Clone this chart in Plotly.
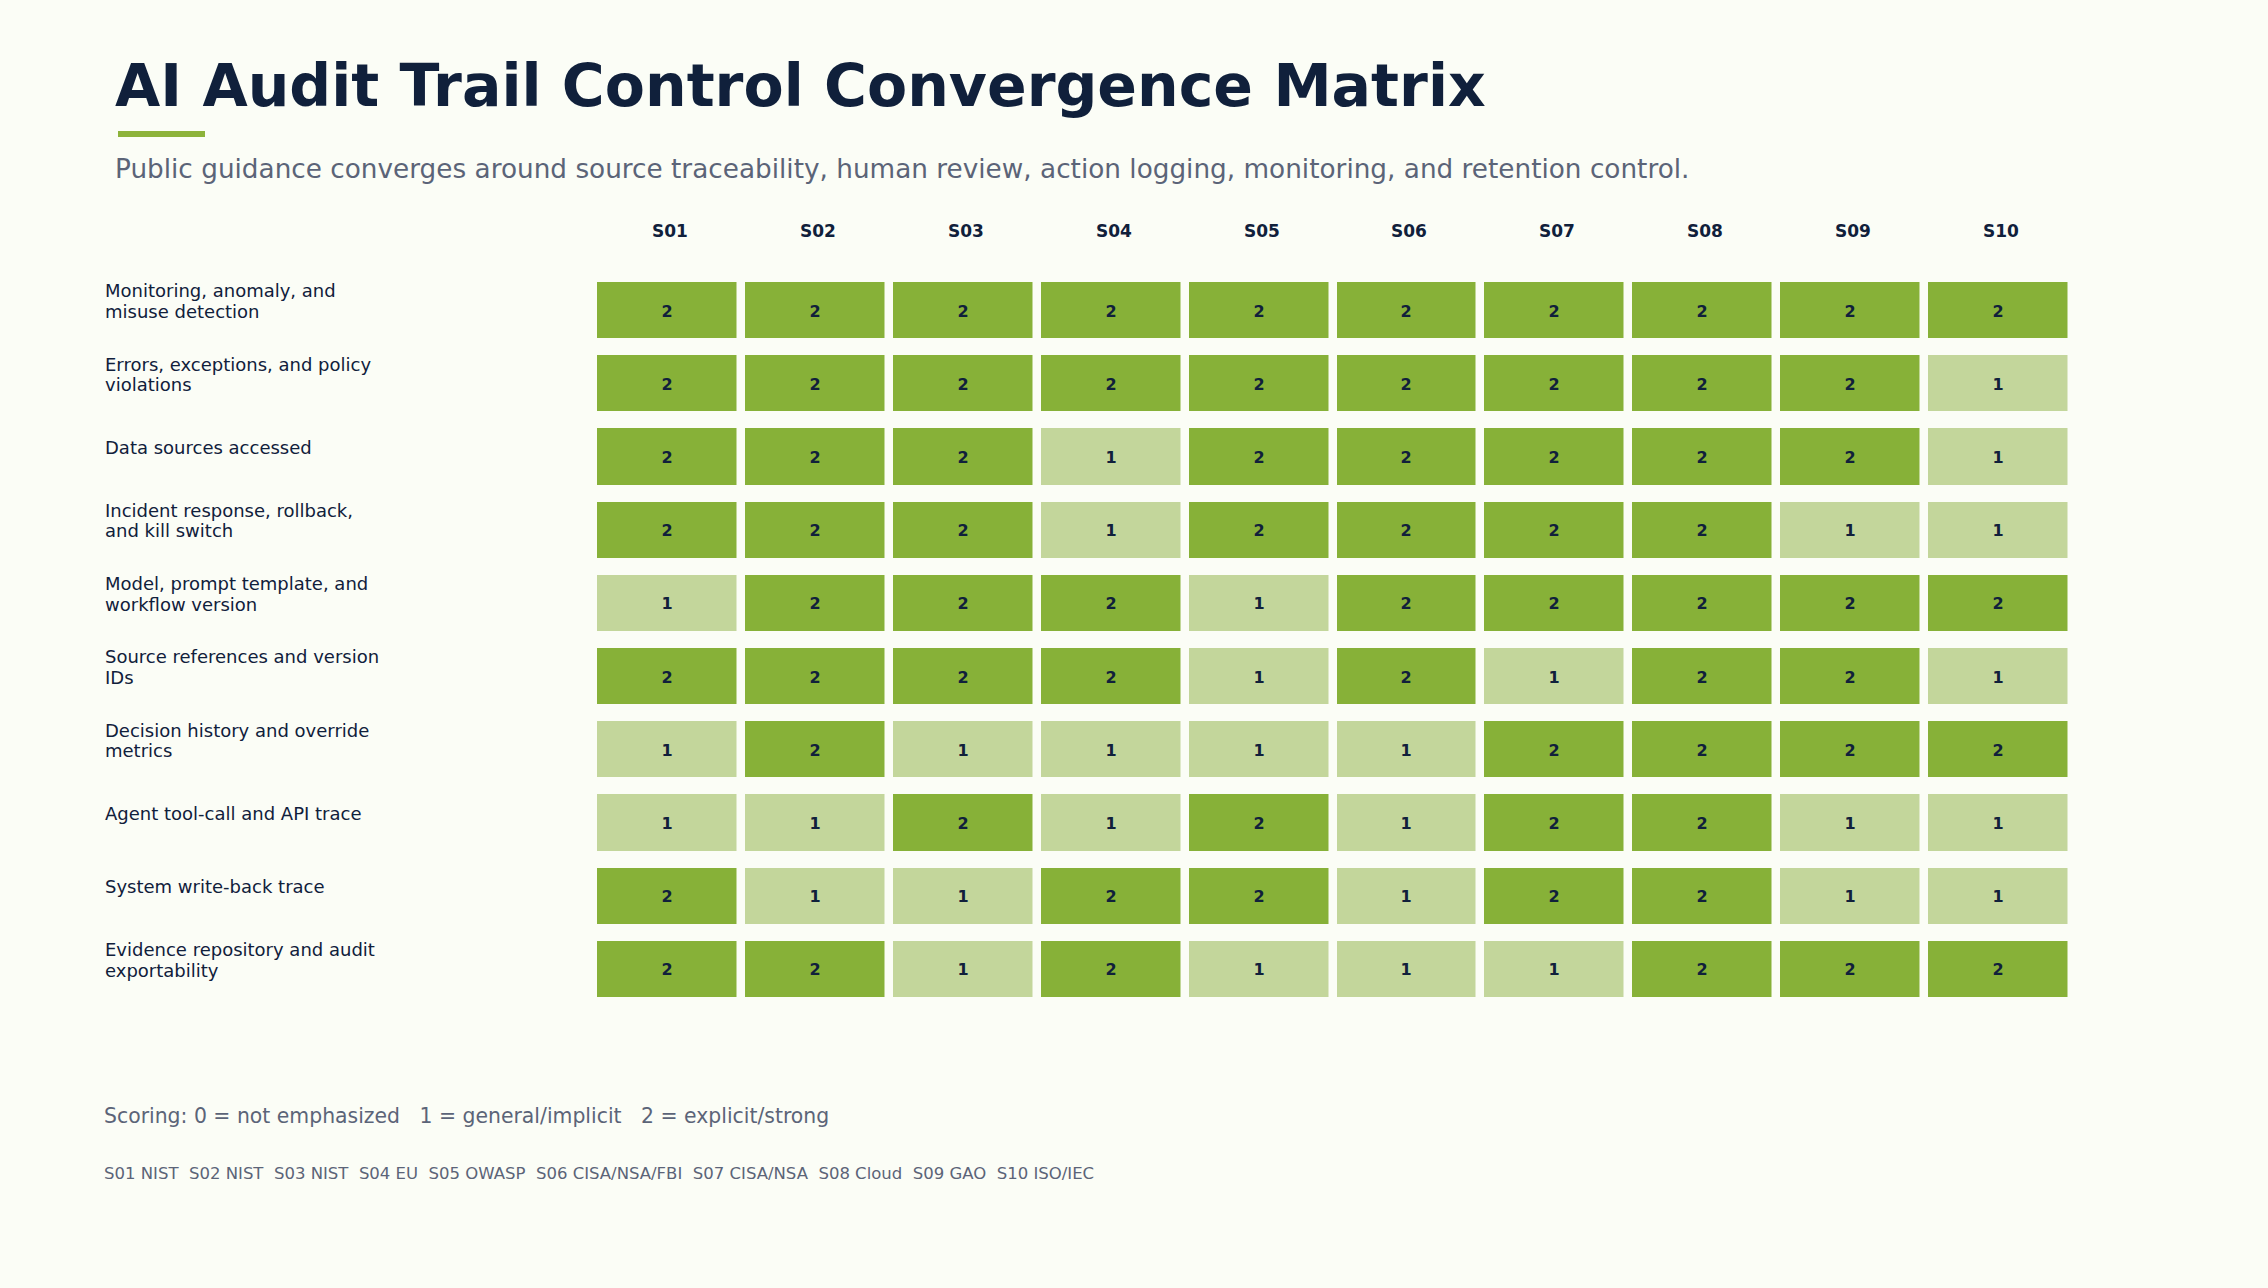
import textwrap
import plotly.graph_objects as go

# ---------------- data ----------------
sources = ["S01", "S02", "S03", "S04", "S05", "S06", "S07", "S08", "S09", "S10"]
controls = [
    "Monitoring, anomaly, and misuse detection",
    "Errors, exceptions, and policy violations",
    "Data sources accessed",
    "Incident response, rollback, and kill switch",
    "Model, prompt template, and workflow version",
    "Source references and version IDs",
    "Decision history and override metrics",
    "Agent tool-call and API trace",
    "System write-back trace",
    "Evidence repository and audit exportability",
]
scores = [
    [2, 2, 2, 2, 2, 2, 2, 2, 2, 2],
    [2, 2, 2, 2, 2, 2, 2, 2, 2, 1],
    [2, 2, 2, 1, 2, 2, 2, 2, 2, 1],
    [2, 2, 2, 1, 2, 2, 2, 2, 1, 1],
    [1, 2, 2, 2, 1, 2, 2, 2, 2, 2],
    [2, 2, 2, 2, 1, 2, 1, 2, 2, 1],
    [1, 2, 1, 1, 1, 1, 2, 2, 2, 2],
    [1, 1, 2, 1, 2, 1, 2, 2, 1, 1],
    [2, 1, 1, 2, 2, 1, 2, 2, 1, 1],
    [2, 2, 1, 2, 1, 1, 1, 2, 2, 2],
]
source_names = ["NIST", "NIST", "NIST", "EU", "OWASP", "CISA/NSA/FBI",
                "CISA/NSA", "Cloud", "GAO", "ISO/IEC"]

title = "AI Audit Trail Control Convergence Matrix"
subtitle = ("Public guidance converges around source traceability, human review, "
            "action logging, monitoring, and retention control.")
scoring_text = ["Scoring: 0 = not emphasized", "1 = general/implicit", "2 = explicit/strong"]

# ---------------- style ----------------
W, H = 2268, 1288
BG = "#fbfdf6"
NAVY = "#10203b"
GRAY = "#5b6478"
DARK = "#87b138"
LIGHT = "#c3d69b"
FONT = "DejaVu Sans"

L, R, T, B = 593, 2072, 274, 1006  # plot area in pixels
pw, ph = R - L, B - T


def px(x):
    return (x - L) / pw


def py(y):
    return (B - y) / ph


fig = go.Figure()
fig.add_trace(go.Heatmap(
    z=scores, x=sources, y=controls,
    zmin=1, zmax=2,
    colorscale=[[0, LIGHT], [1, DARK]],
    showscale=False,
    xgap=8.5, ygap=17,
    texttemplate="<b>%{z}</b>",
    textfont=dict(family=FONT, size=16, color=NAVY),
    hovertemplate="%{y}<br>%{x}: %{z}<extra></extra>",
))

annotations = []
# column headers
for s in sources:
    annotations.append(dict(x=s, xref="x", xshift=3, y=1, yref="paper", yanchor="middle",
                            yshift=43, text=f"<b>{s}</b>", showarrow=False,
                            font=dict(family=FONT, size=17, color=NAVY)))
# row labels (one annotation per wrapped line, matplotlib-like line spacing)
LINE = 20.3
for c in controls:
    lines = textwrap.wrap(c, 30)
    n = len(lines)
    for k, ln in enumerate(lines):
        annotations.append(dict(x=px(102.5), xref="paper", xanchor="left", align="left",
                                y=c, yref="y", yanchor="middle",
                                yshift=9.5 - (k - (n - 1) / 2) * LINE,
                                text=ln, showarrow=False,
                                font=dict(family=FONT, size=18, color=NAVY)))
# title / subtitle
annotations.append(dict(x=px(113), xref="paper", xanchor="left", y=py(86), yref="paper",
                        yanchor="middle", text=f"<b>{title}</b>", showarrow=False,
                        font=dict(family=FONT, size=58.5, color=NAVY)))
annotations.append(dict(x=px(113), xref="paper", xanchor="left", y=py(169), yref="paper",
                        yanchor="middle", text=subtitle, showarrow=False,
                        font=dict(family=FONT, size=26.3, color=GRAY)))
# footer
nb = "\u00a0"
annotations.append(dict(x=px(102), xref="paper", xanchor="left", y=py(1116), yref="paper",
                        yanchor="middle", text=(nb * 3).join(scoring_text), showarrow=False,
                        font=dict(family=FONT, size=20.4, color=GRAY)))
legend_line = (nb * 2).join(f"{s}{nb}{n}" for s, n in zip(sources, source_names))
annotations.append(dict(x=px(102), xref="paper", xanchor="left", y=py(1173), yref="paper",
                        yanchor="middle", text=legend_line, showarrow=False,
                        font=dict(family=FONT, size=16.5, color=GRAY)))

fig.update_layout(
    width=W, height=H,
    margin=dict(l=L, r=W - R, t=T, b=H - B, pad=0),
    paper_bgcolor=BG, plot_bgcolor=BG,
    xaxis=dict(showticklabels=False, showgrid=False, zeroline=False, ticks=""),
    yaxis=dict(showticklabels=False, showgrid=False, zeroline=False, ticks="",
               autorange="reversed"),
    annotations=annotations,
    shapes=[dict(type="rect", xref="paper", yref="paper",
                 x0=px(118), x1=px(205), y0=py(131), y1=py(137),
                 fillcolor="#8db33a", line=dict(width=0))],
    font=dict(family=FONT),
)

fig.write_html("out.html")
